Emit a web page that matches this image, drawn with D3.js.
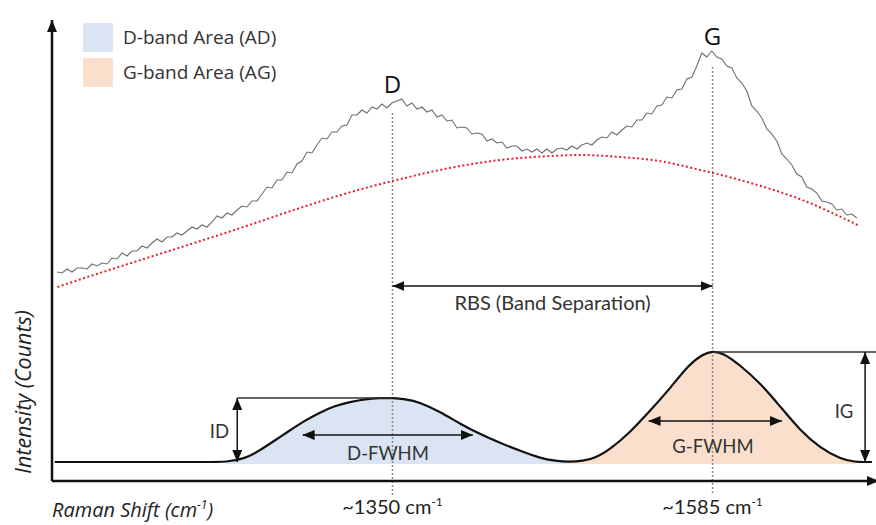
<!DOCTYPE html>
<html>
<head>
<meta charset="utf-8">
<script src="https://cdn.jsdelivr.net/npm/d3@7"></script>
<style>
  body { margin: 0; background: #fff; }
  svg { display: block; }
</style>
</head>
<body>
<svg id="ramanChart" width="876" height="525"></svg>
<script>
// ************************************
// Data (Raman shift in cm-1, intensity in counts)
// ************************************

let bandNames = ["D", "G"];
let bandCentres = [1350, 1585];
let centreLabels = ["~1350 cm", "~1585 cm"];
let legendLabels = ["D-band Area (AD)", "G-band Area (AG)"];

// raw spectrum, one reading every 3.67 cm-1 starting at 1103.7
let spectrumStart = 1103.7,
  spectrumStep = 3.67;
let spectrumCounts = [
  209, 208, 212, 209, 213, 213, 212, 217, 215, 218,
  217, 223, 222, 228, 225, 230, 230, 235, 233, 238,
  242, 239, 244, 244, 248, 246, 250, 254, 252, 256,
  254, 259, 265, 263, 268, 266, 271, 275, 274, 280,
  280, 287, 294, 293, 301, 301, 309, 308, 317, 320,
  329, 328, 336, 343, 342, 349, 349, 355, 356, 366,
  366, 371, 368, 374, 372, 377, 373, 378, 380, 382,
  375, 378, 372, 374, 369, 371, 364, 366, 360, 361,
  353, 354, 353, 347, 348, 347, 340, 342, 338, 339,
  333, 335, 335, 330, 332, 329, 332, 328, 332, 328,
  332, 333, 331, 335, 332, 336, 338, 336, 341, 344,
  343, 349, 346, 351, 355, 354, 361, 361, 368, 367,
  375, 376, 384, 383, 391, 392, 402, 404, 415, 428,
  424, 430, 424, 422, 415, 413, 403, 398, 390, 375,
  370, 363, 352, 347, 340, 327, 322, 316, 307, 304,
  294, 292, 288, 280, 279, 277, 271, 272, 266, 267,
  263
];

// fluorescence background under the spectrum
let backgroundShift = [1104, 1135, 1172, 1209, 1245, 1282, 1312, 1356, 1392, 1429, 1466, 1488, 1517, 1546, 1576, 1613, 1649, 1693];
let backgroundCounts = [194, 208, 224, 240, 256, 273, 286, 302, 313, 321, 325, 326, 324, 320, 311, 298, 282, 255];

// fitted D + G band profile
let bandShift = [1102, 1160, 1215, 1228, 1241, 1252, 1263, 1274, 1285, 1296, 1307, 1319, 1330, 1341, 1350, 1359, 1370,
  1385, 1400, 1414, 1429, 1444, 1458, 1470, 1479, 1490, 1499, 1510, 1524, 1539, 1554, 1568,
  1578, 1585, 1593, 1605, 1620, 1635, 1649, 1664, 1679, 1690, 1696, 1702];
let bandCounts = [19, 19, 19, 19, 22, 30, 40, 50, 60, 68, 75, 79, 82, 83, 83, 82, 79,
  69, 57, 47, 38, 30, 23, 20, 19, 20, 23, 32, 48, 70, 93, 117,
  127, 130, 128, 116, 98, 74, 51, 33, 22, 19, 19, 19];
let dBandRange = [1228, 1479];
let gBandRange = [1479, 1690];

// band height, FWHM and separation markers
let peakHeights = [83, 129];
let baseHeight = 19;
let heightArrowShift = [1236, 1697];
let heightLineEnd = [1350, 1705];
let fwhmLow = [1284, 1538];
let fwhmHigh = [1409, 1636];
let fwhmLevel = [46, 60];
let fwhmLabels = ["D-FWHM", "G-FWHM"];
let heightLabels = ["ID", "IG"];
let rbsLevel = 195;

// ************************************
// Scales
// ************************************

let x = d3.scaleLinear()
  .domain([1100, 1705])
  .range([52, 876]);

let y = d3.scaleLinear()
  .domain([0, 471])
  .range([481, 10]);

let svg = d3.select("#ramanChart");
let bandFill = ["#dae4f2", "#fbdfcd"];
let labelFont = "Lato, 'Open Sans', sans-serif";
let italicFont = "'Open Sans', sans-serif";

// ************************************
// Execute functions
// ************************************

defineMarkers();
drawBandAreas();
drawGuides();
drawCurves();
drawAxes();
drawAnnotations();
drawLegend();

// ************************************
// Function definitions
// ************************************

function defineMarkers() {
  let defs = svg.append("defs");
  [["arrowEnd", "M0,0 L12,5 L0,10 Z", 12], ["arrowStart", "M12,0 L0,5 L12,10 Z", 0]].forEach(function(m) {
    defs.append("marker")
      .attr("id", m[0])
      .attr("markerUnits", "userSpaceOnUse")
      .attr("viewBox", "0 0 12 10")
      .attr("markerWidth", 12)
      .attr("markerHeight", 10)
      .attr("refX", m[2])
      .attr("refY", 5)
      .attr("orient", "auto")
      .append("path")
      .attr("d", m[1])
      .attr("fill", "#111");
  });
}

function bandPoints() {
  return bandShift.map(function(s, i) {
    return { s: s, c: bandCounts[i] };
  });
}

function drawBandAreas() {
  let points = bandPoints();
  let area = d3.area()
    .x(function(d) { return x(d.s); })
    .y0(y(baseHeight - 2))
    .y1(function(d) { return y(d.c); })
    .curve(d3.curveBasis);

  let dPart = points.filter(function(d) { return d.s >= dBandRange[0] && d.s <= dBandRange[1]; });
  let gPart = points.filter(function(d) { return d.s >= gBandRange[0] && d.s <= gBandRange[1]; });

  svg.append("path").attr("d", area(dPart)).attr("fill", bandFill[0]);
  svg.append("path").attr("d", area(gPart)).attr("fill", bandFill[1]);
}

function drawGuides() {
  // dotted lines down from each peak
  let tops = [113, 67];
  svg.selectAll(".peakGuide")
    .data(bandCentres)
    .enter()
    .append("line")
    .attr("class", "peakGuide")
    .attr("x1", function(d) { return x(d); })
    .attr("x2", function(d) { return x(d); })
    .attr("y1", function(d, i) { return tops[i]; })
    .attr("y2", y(-14))
    .attr("stroke", "#8a8a8a")
    .attr("stroke-width", 1.5)
    .attr("stroke-dasharray", "2,2");
}

function drawCurves() {
  let spectrumLine = d3.line()
    .x(function(d, i) { return x(spectrumStart + i * spectrumStep); })
    .y(function(d) { return y(d); });

  svg.append("path")
    .attr("d", spectrumLine(spectrumCounts))
    .attr("fill", "none")
    .attr("stroke", "#6e6e6e")
    .attr("stroke-width", 1.1);

  let smoothLine = d3.line()
    .x(function(d) { return x(d[0]); })
    .y(function(d) { return y(d[1]); })
    .curve(d3.curveMonotoneX);

  svg.append("path")
    .attr("d", smoothLine(d3.zip(backgroundShift, backgroundCounts)))
    .attr("fill", "none")
    .attr("stroke", "#e8202a")
    .attr("stroke-width", 2)
    .attr("stroke-dasharray", "2,2.5");

  let bandLine = d3.line()
    .x(function(d) { return x(d.s); })
    .y(function(d) { return y(d.c); })
    .curve(d3.curveBasis);

  svg.append("path")
    .attr("d", bandLine(bandPoints()))
    .attr("fill", "none")
    .attr("stroke", "#111")
    .attr("stroke-width", 2.2);
}

function drawAxes() {
  svg.append("line")
    .attr("x1", x(1100)).attr("y1", y(0))
    .attr("x2", x(1100)).attr("y2", y(461))
    .attr("stroke", "#111")
    .attr("stroke-width", 2.5)
    .attr("marker-end", "url(#arrowEnd)");

  svg.append("line")
    .attr("x1", x(1100)).attr("y1", y(0))
    .attr("x2", x(1707)).attr("y2", y(0))
    .attr("stroke", "#111")
    .attr("stroke-width", 2.5)
    .attr("marker-end", "url(#arrowEnd)");

  let xTitle = svg.append("text")
    .attr("x", 52)
    .attr("y", 517)
    .attr("font-family", italicFont)
    .attr("font-style", "italic")
    .attr("font-size", 20)
    .attr("fill", "#222");
  xTitle.append("tspan").text("Raman Shift (cm");
  xTitle.append("tspan").attr("font-size", 12).attr("dy", -8).text("-1");
  xTitle.append("tspan").attr("dy", 8).text(")");

  svg.append("text")
    .attr("transform", "translate(31,392) rotate(-90)")
    .attr("text-anchor", "middle")
    .attr("font-family", italicFont)
    .attr("font-style", "italic")
    .attr("font-size", 21.5)
    .attr("fill", "#222")
    .text("Intensity (Counts)");

  // band centre labels
  let centre = svg.selectAll(".centreLabel")
    .data(bandCentres)
    .enter()
    .append("text")
    .attr("class", "centreLabel")
    .attr("x", function(d) { return x(d); })
    .attr("y", 514)
    .attr("text-anchor", "middle")
    .attr("font-family", labelFont)
    .attr("font-size", 20)
    .attr("fill", "#222");
  centre.append("tspan").text(function(d, i) { return centreLabels[i]; });
  centre.append("tspan").attr("font-size", 12).attr("dy", -8).text("-1");
}

function drawAnnotations() {
  // D and G letters
  svg.selectAll(".bandName")
    .data(bandNames)
    .enter()
    .append("text")
    .attr("x", function(d, i) { return x(bandCentres[i]); })
    .attr("y", function(d, i) { return [93, 45][i]; })
    .attr("text-anchor", "middle")
    .attr("font-family", "'Open Sans', sans-serif")
    .attr("font-size", 24)
    .attr("fill", "#111")
    .text(function(d) { return d; });

  // height lines and arrows
  bandCentres.forEach(function(c, i) {
    svg.append("line")
      .attr("x1", x(c)).attr("y1", y(peakHeights[i]))
      .attr("x2", x(heightLineEnd[i])).attr("y2", y(peakHeights[i]))
      .attr("stroke", "#333").attr("stroke-width", 1.3);
    if (i == 0) {
      svg.append("line")
        .attr("x1", x(heightArrowShift[i])).attr("y1", y(peakHeights[i]))
        .attr("x2", x(c)).attr("y2", y(peakHeights[i]))
        .attr("stroke", "#333").attr("stroke-width", 1.3);
    }
    svg.append("line")
      .attr("x1", x(heightArrowShift[i])).attr("y1", y(peakHeights[i]))
      .attr("x2", x(heightArrowShift[i])).attr("y2", y(baseHeight))
      .attr("stroke", "#111").attr("stroke-width", 1.5)
      .attr("marker-start", "url(#arrowStart)")
      .attr("marker-end", "url(#arrowEnd)");

    svg.append("line")
      .attr("x1", x(fwhmLow[i])).attr("y1", y(fwhmLevel[i]))
      .attr("x2", x(fwhmHigh[i])).attr("y2", y(fwhmLevel[i]))
      .attr("stroke", "#111").attr("stroke-width", 1.5)
      .attr("marker-start", "url(#arrowStart)")
      .attr("marker-end", "url(#arrowEnd)");
  });

  let textAttrs = function(sel, size) {
    sel.attr("font-family", labelFont)
      .attr("font-size", size || 18.5)
      .attr("fill", "#333");
  };

  svg.append("text").attr("x", 229).attr("y", 438).attr("text-anchor", "end").call(textAttrs).text(heightLabels[0]);
  svg.append("text").attr("x", 844).attr("y", 418).attr("text-anchor", "middle").call(textAttrs).text(heightLabels[1]);
  svg.append("text").attr("x", 388).attr("y", 460).attr("text-anchor", "middle").call(textAttrs).text(fwhmLabels[0]);
  svg.append("text").attr("x", 713).attr("y", 453).attr("text-anchor", "middle").call(textAttrs).text(fwhmLabels[1]);

  // band separation
  svg.append("line")
    .attr("x1", x(bandCentres[0])).attr("y1", y(rbsLevel))
    .attr("x2", x(bandCentres[1])).attr("y2", y(rbsLevel))
    .attr("stroke", "#111").attr("stroke-width", 1.5)
    .attr("marker-start", "url(#arrowStart)")
    .attr("marker-end", "url(#arrowEnd)");
  svg.append("text")
    .attr("x", (x(bandCentres[0]) + x(bandCentres[1])) / 2)
    .attr("y", 310)
    .attr("text-anchor", "middle")
    .call(textAttrs, 20)
    .text("RBS (Band Separation)");
}

function drawLegend() {
  let item = svg.selectAll(".legendItem")
    .data(legendLabels)
    .enter()
    .append("g")
    .attr("class", "legendItem")
    .attr("transform", function(d, i) { return "translate(83," + (23 + i * 35) + ")"; });
  item.append("rect")
    .attr("width", 30)
    .attr("height", 29)
    .attr("fill", function(d, i) { return bandFill[i]; });
  item.append("text")
    .attr("x", 40)
    .attr("y", 21)
    .attr("font-family", "'Open Sans', sans-serif")
    .attr("font-size", 19)
    .attr("fill", "#333")
    .text(function(d) { return d; });
}
</script>
</body>
</html>
